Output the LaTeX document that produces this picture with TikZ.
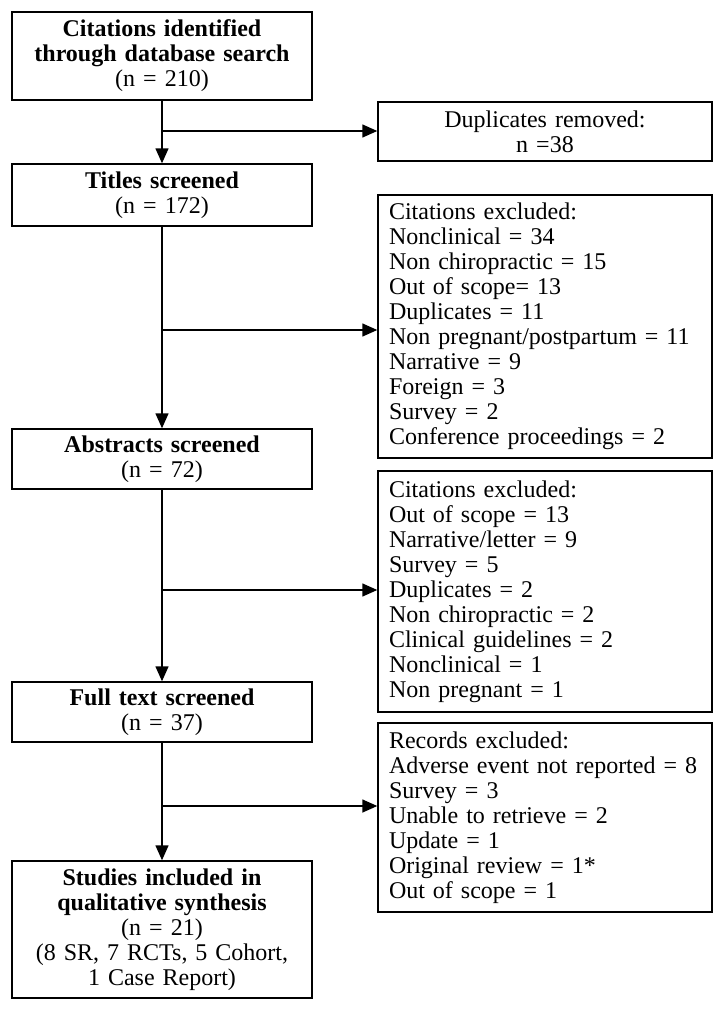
\documentclass[tikz,border=0pt]{standalone}
\usepackage{fontspec}
\setmainfont{Liberation Serif}
\usetikzlibrary{arrows.meta}

\begin{document}
\begin{tikzpicture}[x=1pt,y=-1pt,>={Triangle[length=15pt,width=13pt]},line width=1.4pt,font=\fontsize{24}{25}\selectfont]
    \tikzstyle{stage}=[rectangle,draw,text width=288pt,inner xsep=6pt,inner ysep=4pt,align=center,minimum height=60pt]
    \tikzstyle{note}=[rectangle,draw,text width=312pt,inner xsep=11pt,inner ysep=4pt,align=left]

    \useasboundingbox (0,0) rectangle (724,1012);

    \node(ident) [stage,minimum height=88pt] at (162,56) {\textbf{Citations identified}\\\textbf{through database search}\\(n = 210)};
    \node(titles) [stage,minimum height=62pt] at (162,195) {\textbf{Titles screened}\\(n = 172)};
    \node(abstr) [stage] at (162,459) {\textbf{Abstracts screened}\\(n = 72)};
    \node(full) [stage] at (162,712) {\textbf{Full text screened}\\(n = 37)};
    \node(incl) [stage,minimum height=137pt] at (162,929.5) {\textbf{Studies included in}\\\textbf{qualitative synthesis}\\(n = 21)\\(8 SR, 7 RCTs, 5 Cohort,\\1 Case Report)};

    \node(dup) [note,align=center,minimum height=59pt] at (545,131.5) {Duplicates removed:\\n =38};
    \node(excla) [note,minimum height=263pt] at (545,326.5) {Citations excluded:\\Nonclinical = 34\\Non chiropractic = 15\\Out of scope= 13\\Duplicates = 11\\Non pregnant/postpartum = 11\\Narrative = 9\\Foreign = 3\\Survey = 2\\Conference proceedings = 2};
    \node(exclb) [note,minimum height=241pt] at (545,591.5) {Citations excluded:\\Out of scope = 13\\Narrative/letter = 9\\Survey = 5\\Duplicates = 2\\Non chiropractic = 2\\Clinical guidelines = 2\\Nonclinical = 1\\Non pregnant = 1};
    \node(recs) [note,minimum height=189pt] at (545,817.5) {Records excluded:\\Adverse event not reported = 8\\Survey = 3\\Unable to retrieve = 2\\Update = 1\\Original review = 1*\\Out of scope = 1};

    % branch points on the main line
    \coordinate (ja) at (162,131);
    \coordinate (jb) at (162,330);
    \coordinate (jc) at (162,590);
    \coordinate (jd) at (162,806);

    \draw [->] (ident) -- (titles);
    \draw [->] (titles) -- (abstr);
    \draw [->] (abstr) -- (full);
    \draw [->] (full) -- (incl);

    \draw [->] (ja) -- (ja -| dup.west);
    \draw [->] (jb) -- (jb -| excla.west);
    \draw [->] (jc) -- (jc -| exclb.west);
    \draw [->] (jd) -- (jd -| recs.west);

\end{tikzpicture}
\end{document}
